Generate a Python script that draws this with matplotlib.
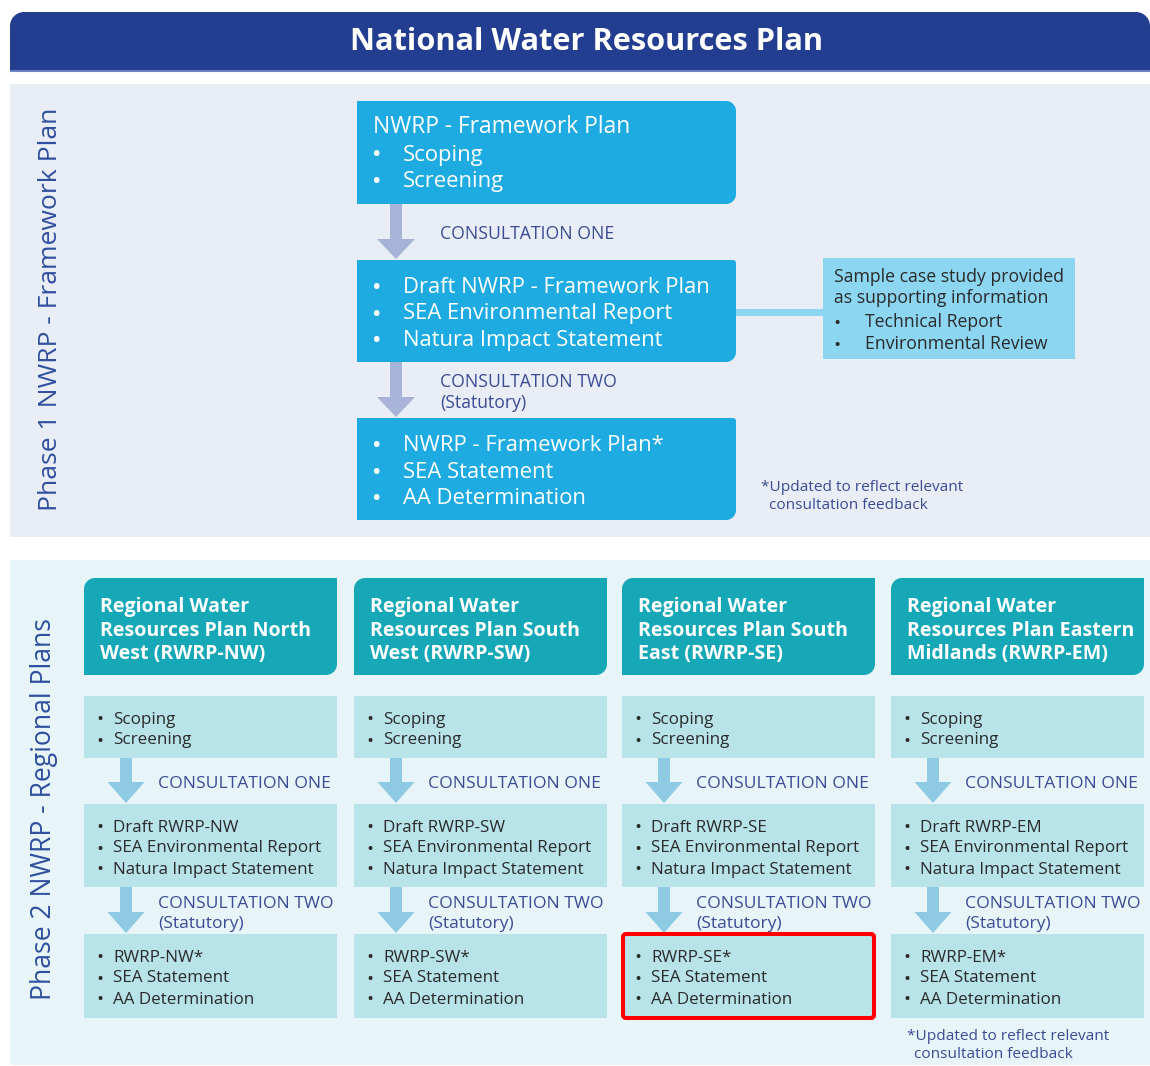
import numpy as np
import matplotlib
matplotlib.use("Agg")
import matplotlib.pyplot as plt
import matplotlib.patches as mpatches

plt.rcParams['font.family'] = ['Open Sans', 'DejaVu Sans']

# text content
TITLE = "National Water Resources Plan"
PHASE1_LABEL = "Phase 1 NWRP - Framework Plan"
PHASE2_LABEL = "Phase 2 NWRP - Regional Plans"

FRAMEWORK_HEAD = "NWRP - Framework Plan"
FRAMEWORK_STEPS = [
    ["Scoping", "Screening"],
    ["Draft NWRP - Framework Plan", "SEA Environmental Report", "Natura Impact Statement"],
    ["NWRP - Framework Plan*", "SEA Statement", "AA Determination"],
]
CONSULTATIONS = [["CONSULTATION ONE"], ["CONSULTATION TWO", "(Statutory)"]]
SUPPORT_LINES = ["Sample case study provided", "as supporting information"]
SUPPORT_BULLETS = ["Technical Report", "Environmental Review"]
FOOTNOTE = ["*Updated to reflect relevant", "consultation feedback"]

REGION_CODES = ["NW", "SW", "SE", "EM"]
REGION_TITLES = [
    ["Regional Water", "Resources Plan North", "West (RWRP-NW)"],
    ["Regional Water", "Resources Plan South", "West (RWRP-SW)"],
    ["Regional Water", "Resources Plan South", "East (RWRP-SE)"],
    ["Regional Water", "Resources Plan Eastern", "Midlands (RWRP-EM)"],
]
HIGHLIGHT = "SE"

# colours
NAVY = "#233e90"
P1_BG = "#e9edf5"
P2_BG = "#e7f5f8"
LABEL_BLUE = "#2f4f9f"
BOX_BLUE = "#1eabe2"
ARROW1 = "#a8b3d8"
SIDE_BLUE = "#8dd6f1"
TEAL = "#17a8b8"
STEP_BOX = "#b7e3e9"
ARROW2 = "#8ecae4"
CONS_TXT = "#3b4b96"
DARK = "#2a2a2a"


def rounded_poly(x0, y0, x1, y1, radii, **kw):
    # radii: top-left, top-right, bottom-right, bottom-left (y axis points down)
    tl, tr, br, bl = radii
    pts = []
    corners = [(x0 + tl, y0 + tl, tl, np.pi), (x1 - tr, y0 + tr, tr, 1.5 * np.pi),
               (x1 - br, y1 - br, br, 0.0), (x0 + bl, y1 - bl, bl, 0.5 * np.pi)]
    for cx, cy, r, a0 in corners:
        t = np.linspace(a0, a0 + 0.5 * np.pi, 12)
        pts += list(zip(cx + r * np.cos(t), cy + r * np.sin(t)))
    return mpatches.Polygon(pts, closed=True, **kw)


def down_arrow(ax, xc, y0, y1, shaft, head_w, head_h, color):
    pts = [(xc - shaft / 2, y0), (xc + shaft / 2, y0), (xc + shaft / 2, y1 - head_h),
           (xc + head_w / 2, y1 - head_h), (xc, y1), (xc - head_w / 2, y1 - head_h),
           (xc - shaft / 2, y1 - head_h)]
    ax.add_patch(mpatches.Polygon(pts, closed=True, facecolor=color, edgecolor='none'))


fig = plt.figure(figsize=(11.5, 10.66), dpi=100)
ax = fig.add_axes([0, 0, 1, 1])
ax.set_xlim(0, 1150)
ax.set_ylim(1066, 0)
ax.axis('off')
renderer = fig.canvas.get_renderer()


def fit(s, width, weight='normal'):
    t = ax.text(0, 0, s, fontsize=10, fontweight=weight)
    w = t.get_window_extent(renderer).width
    t.remove()
    return 10 * width / w


fs_title = fit(TITLE, 476, 'bold')
fs_p1head = fit(FRAMEWORK_HEAD, 256)
fs_p1 = fit("SEA Environmental Report", 268)
fs_cons1 = fit("CONSULTATION ONE", 174)
fs_side = fit(SUPPORT_LINES[0], 230)
fs_foot1 = fit(FOOTNOTE[0], 202)
fs_head2 = fit(REGION_TITLES[0][1], 212, 'bold')
fs_body2 = fit("SEA Environmental Report", 208)
fs_cons2 = fit("CONSULTATION ONE", 172)
fs_foot2 = fit(FOOTNOTE[0], 201)
fs_lab1 = fit(PHASE1_LABEL, 402)
fs_lab2 = fit(PHASE2_LABEL, 382)

# title bar
ax.add_patch(rounded_poly(10, 12, 1150, 72, (14, 14, 0, 0), facecolor=NAVY, edgecolor='none'))
ax.plot([10, 1150], [71, 71], color="#6a82c4", lw=1.5, solid_capstyle='butt')
ax.text(587, 42, TITLE, color='white', fontsize=fs_title, fontweight='bold', ha='center', va='center')

# ---------------- Phase 1 ----------------
ax.add_patch(mpatches.Rectangle((10, 84), 1140, 453, facecolor=P1_BG, edgecolor='none'))
ax.text(51, 309, PHASE1_LABEL, rotation=90, color=LABEL_BLUE, fontsize=fs_lab1, ha='center', va='center')

bx0, bx1 = 357, 736
tops = [101, 260, 418]
bots = [204, 362, 520]
radii = [(0, 10, 10, 0), (0, 3, 10, 0), (0, 3, 10, 0)]
for i, lines in enumerate(FRAMEWORK_STEPS):
    ax.add_patch(rounded_poly(bx0, tops[i], bx1, bots[i], radii[i], facecolor=BOX_BLUE, edgecolor='none'))
    k = 0
    if i == 0:
        ax.text(373, tops[i] + 32, FRAMEWORK_HEAD, color='white', fontsize=fs_p1head, va='baseline')
        k = 1
    for j, s in enumerate(lines):
        y = tops[i] + 33 + 26.5 * (j + k)
        ax.text(377, y, "\u2022", color='white', fontsize=fs_p1 * 0.9, fontweight='bold',
                ha='center', va='baseline')
        ax.text(403, y, s, color='white', fontsize=fs_p1, va='baseline')

for i, cons in enumerate(CONSULTATIONS):
    down_arrow(ax, 396, bots[i], tops[i + 1] - 1, 12, 38, 20, ARROW1)
    mid = (bots[i] + tops[i + 1]) / 2
    if len(cons) == 1:
        ax.text(440, mid + 7, cons[0], color=CONS_TXT, fontsize=fs_cons1, va='baseline')
    else:
        ax.text(440, mid - 3, cons[0], color=CONS_TXT, fontsize=fs_cons1, va='baseline')
        ax.text(440, mid + 18, cons[1], color=CONS_TXT, fontsize=fs_cons1, va='baseline')

# supporting information box
ax.add_patch(mpatches.Rectangle((736, 309), 87, 7, facecolor=SIDE_BLUE, edgecolor='none'))
ax.add_patch(mpatches.Rectangle((823, 258), 252, 101, facecolor=SIDE_BLUE, edgecolor='none'))
for j, s in enumerate(SUPPORT_LINES):
    ax.text(834, 282 + 21 * j, s, color=DARK, fontsize=fs_side, va='baseline')
for j, s in enumerate(SUPPORT_BULLETS):
    ax.text(837, 327 + 22 * j, "\u2022", color=DARK, fontsize=fs_side * 0.8, fontweight='bold',
            ha='center', va='baseline')
    ax.text(865, 327 + 22 * j, s, color=DARK, fontsize=fs_side, va='baseline')

ax.text(761, 491, FOOTNOTE[0], color=CONS_TXT, fontsize=fs_foot1, va='baseline')
ax.text(769, 509, FOOTNOTE[1], color=CONS_TXT, fontsize=fs_foot1, va='baseline')

# ---------------- Phase 2 ----------------
ax.add_patch(mpatches.Rectangle((10, 560), 1140, 505, facecolor=P2_BG, edgecolor='none'))
ax.text(44, 809, PHASE2_LABEL, rotation=90, color=LABEL_BLUE, fontsize=fs_lab2, ha='center', va='center')

col_x = [84, 354, 622, 891]
col_w = 253
s_tops = [696, 804, 934]
s_bots = [758, 887, 1018]
for c, code in enumerate(REGION_CODES):
    x0 = col_x[c]
    ax.add_patch(rounded_poly(x0, 578, x0 + col_w, 675, (11, 0, 11, 0), facecolor=TEAL, edgecolor='none'))
    for j, s in enumerate(REGION_TITLES[c]):
        ax.text(x0 + 16, 612 + 23.5 * j, s, color='white', fontsize=fs_head2, fontweight='bold', va='baseline')

    steps = [["Scoping", "Screening"],
             ["Draft RWRP-" + code, "SEA Environmental Report", "Natura Impact Statement"],
             ["RWRP-" + code + "*", "SEA Statement", "AA Determination"]]
    for i, lines in enumerate(steps):
        ax.add_patch(mpatches.Rectangle((x0, s_tops[i]), col_w, s_bots[i] - s_tops[i],
                                        facecolor=STEP_BOX, edgecolor='none'))
        for j, s in enumerate(lines):
            y = s_tops[i] + 27.5 + 21 * j
            ax.text(x0 + 16, y, "\u2022", color=DARK, fontsize=fs_body2 * 0.8, fontweight='bold',
                    ha='center', va='baseline')
            ax.text(x0 + 29, y, s, color=DARK, fontsize=fs_body2, va='baseline')

    for i, cons in enumerate(CONSULTATIONS):
        down_arrow(ax, x0 + 42, s_bots[i], s_tops[i + 1] - 1, 12, 37, 21, ARROW2)
        mid = (s_bots[i] + s_tops[i + 1]) / 2
        if len(cons) == 1:
            ax.text(x0 + 74, mid + 7, cons[0], color=CONS_TXT, fontsize=fs_cons2, va='baseline')
        else:
            ax.text(x0 + 74, mid - 3, cons[0], color=CONS_TXT, fontsize=fs_cons2, va='baseline')
            ax.text(x0 + 74, mid + 17, cons[1], color=CONS_TXT, fontsize=fs_cons2, va='baseline')

    if code == HIGHLIGHT:
        ax.add_patch(mpatches.FancyBboxPatch((x0 + 1, 934), col_w - 2, 84,
                                             boxstyle="round,pad=0,rounding_size=3",
                                             facecolor='none', edgecolor='#ff0000', lw=2.9))

ax.text(907, 1040, FOOTNOTE[0], color=CONS_TXT, fontsize=fs_foot2, va='baseline')
ax.text(914, 1058, FOOTNOTE[1], color=CONS_TXT, fontsize=fs_foot2, va='baseline')

fig.savefig("out.png", dpi=100)
